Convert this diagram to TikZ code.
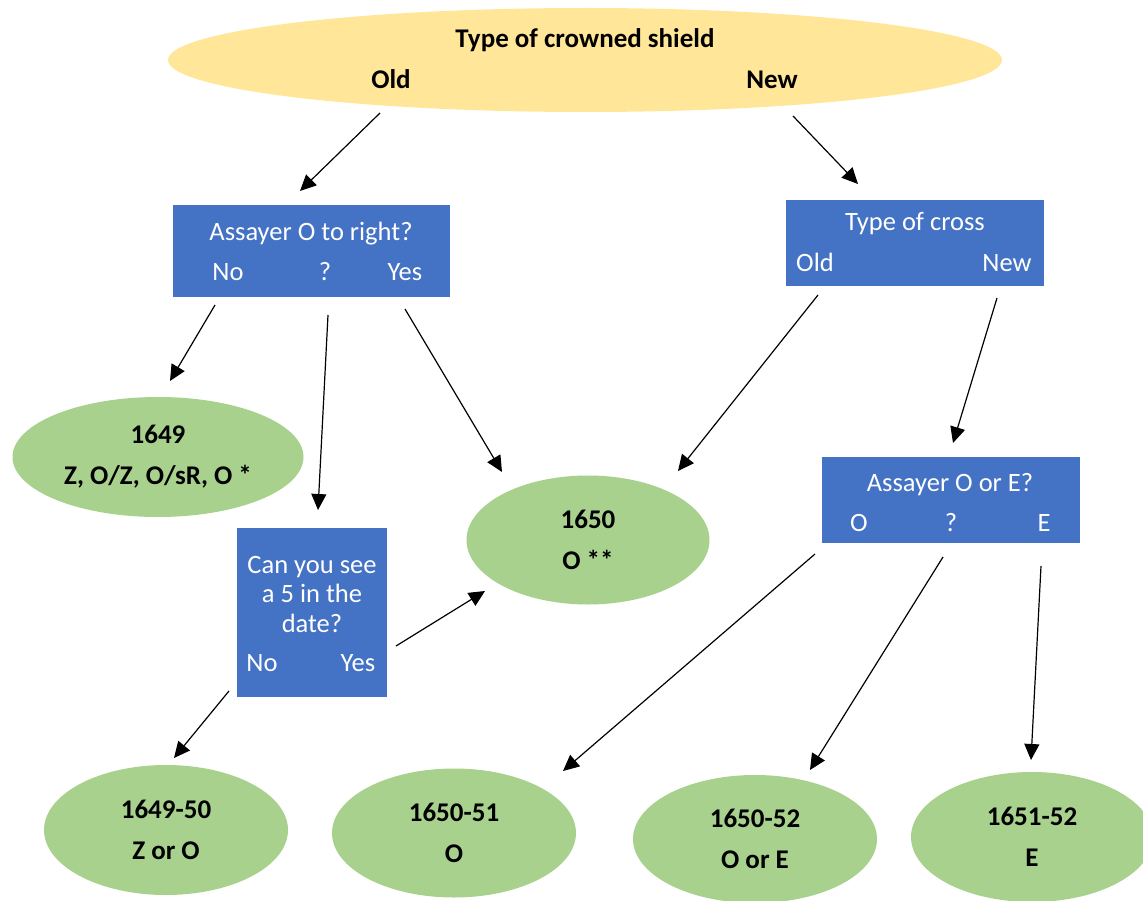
\documentclass[tikz,border=0pt]{standalone}
\usepackage{fontspec}
\setmainfont{Carlito}
\usetikzlibrary{shapes.geometric,arrows.meta}
\definecolor{shieldyellow}{HTML}{FFE699}
\definecolor{boxblue}{HTML}{4472C4}
\definecolor{leafgreen}{HTML}{A9D18E}
\tikzset{
  x=1pt, y=-1pt,
  every node/.style={font=\fontsize{26.5}{30}\selectfont},
  topoval/.style={ellipse, fill=shieldyellow, inner sep=0pt, minimum width=834pt, minimum height=104pt},
  qbox/.style={rectangle, fill=boxblue, inner sep=0pt},
  qtext/.style={text=white, anchor=base, inner sep=0pt},
  ttext/.style={anchor=base, inner sep=0pt, font=\fontsize{27}{30}\selectfont\bfseries},
  leaf/.style={ellipse, fill=leafgreen, inner sep=0pt, align=center,
    font=\fontsize{27}{41}\selectfont\bfseries},
  arr/.style={-{Triangle[length=16pt,width=15pt]}, line width=1.2pt, black},
}
\begin{document}
\begin{tikzpicture}
\useasboundingbox (0,0) rectangle (1143,901);

% top ellipse
\node[topoval] (top) at (585,60) {};
\node[ttext] (toptitle) at (585,48) {Type of crowned shield};
\node[ttext] (topold) at (391,89) {Old};
\node[ttext] (topnew) at (772,89) {New};

% question boxes
\node[qbox, minimum width=277pt, minimum height=92pt] (q1) at (311.5,251) {};
\node[qtext] (q1t) at (311,241) {Assayer O to right?};
\node[qtext] (q1no) at (228,280) {No};
\node[qtext] (q1q) at (325,280) {?};
\node[qtext] (q1yes) at (405,280) {Yes};

\node[qbox, minimum width=258pt, minimum height=86pt] (q2) at (915,243) {};
\node[qtext] (q2t) at (915,231) {Type of cross};
\node[qtext] (q2old) at (815,272) {Old};
\node[qtext] (q2new) at (1007,272) {New};

\node[qbox, minimum width=150pt, minimum height=169pt] (q3) at (312,612.5) {};
\node[text=white, inner sep=0pt, align=center, font=\fontsize{26.5}{29.5}\selectfont] (q3t) at (312,594) {Can you see\\a 5 in the\\date?};
\node[qtext] (q3no) at (262,671) {No};
\node[qtext] (q3yes) at (358,671) {Yes};

\node[qbox, minimum width=258pt, minimum height=86pt] (q4) at (951,500) {};
\node[qtext] (q4t) at (950,491) {Assayer O or E?};
\node[qtext] (q4o) at (859,531) {O};
\node[qtext] (q4q) at (951,531) {?};
\node[qtext] (q4e) at (1044,531) {E};

% leaves
\node[leaf, minimum width=291pt, minimum height=120pt] (l1649) at (158,457) {1649\\Z, O/Z, O/sR, O *};
\node[leaf, minimum width=243pt, minimum height=129pt] (l1650) at (588,540) {1650\\O **};
\node[leaf, minimum width=244pt, minimum height=130pt] (l164950) at (166,830) {1649-50\\Z or O};
\node[leaf, minimum width=244pt, minimum height=129pt] (l165051) at (454,833) {1650-51\\O};
\node[leaf, minimum width=244pt, minimum height=128pt] (l165052) at (755,839) {1650-52\\O or E};
\node[leaf, minimum width=242pt, minimum height=130pt] (l165152) at (1032,837) {1651-52\\E};

% connector end points
\coordinate (a1s) at (380,113); \coordinate (a1e) at (300,191);
\coordinate (a2s) at (793,116); \coordinate (a2e) at (858,184);
\coordinate (a3s) at (215,305); \coordinate (a3e) at (170,381);
\coordinate (a4s) at (328,315); \coordinate (a4e) at (318,510);
\coordinate (a5s) at (405,309); \coordinate (a5e) at (502,472);
\coordinate (a6s) at (818,295); \coordinate (a6e) at (678,471);
\coordinate (a7s) at (997,298); \coordinate (a7e) at (953,443);
\coordinate (a8s) at (396,646); \coordinate (a8e) at (485,591);
\coordinate (a9s) at (229,691); \coordinate (a9e) at (174,758);
\coordinate (a10s) at (815,554); \coordinate (a10e) at (563,771);
\coordinate (a11s) at (943,557); \coordinate (a11e) at (810,770);
\coordinate (a12s) at (1041,566); \coordinate (a12e) at (1031,760);

\draw[arr] (a1s) -- (a1e);
\draw[arr] (a2s) -- (a2e);
\draw[arr] (a3s) -- (a3e);
\draw[arr] (a4s) -- (a4e);
\draw[arr] (a5s) -- (a5e);
\draw[arr] (a6s) -- (a6e);
\draw[arr] (a7s) -- (a7e);
\draw[arr] (a8s) -- (a8e);
\draw[arr] (a9s) -- (a9e);
\draw[arr] (a10s) -- (a10e);
\draw[arr] (a11s) -- (a11e);
\draw[arr] (a12s) -- (a12e);
\end{tikzpicture}
\end{document}
